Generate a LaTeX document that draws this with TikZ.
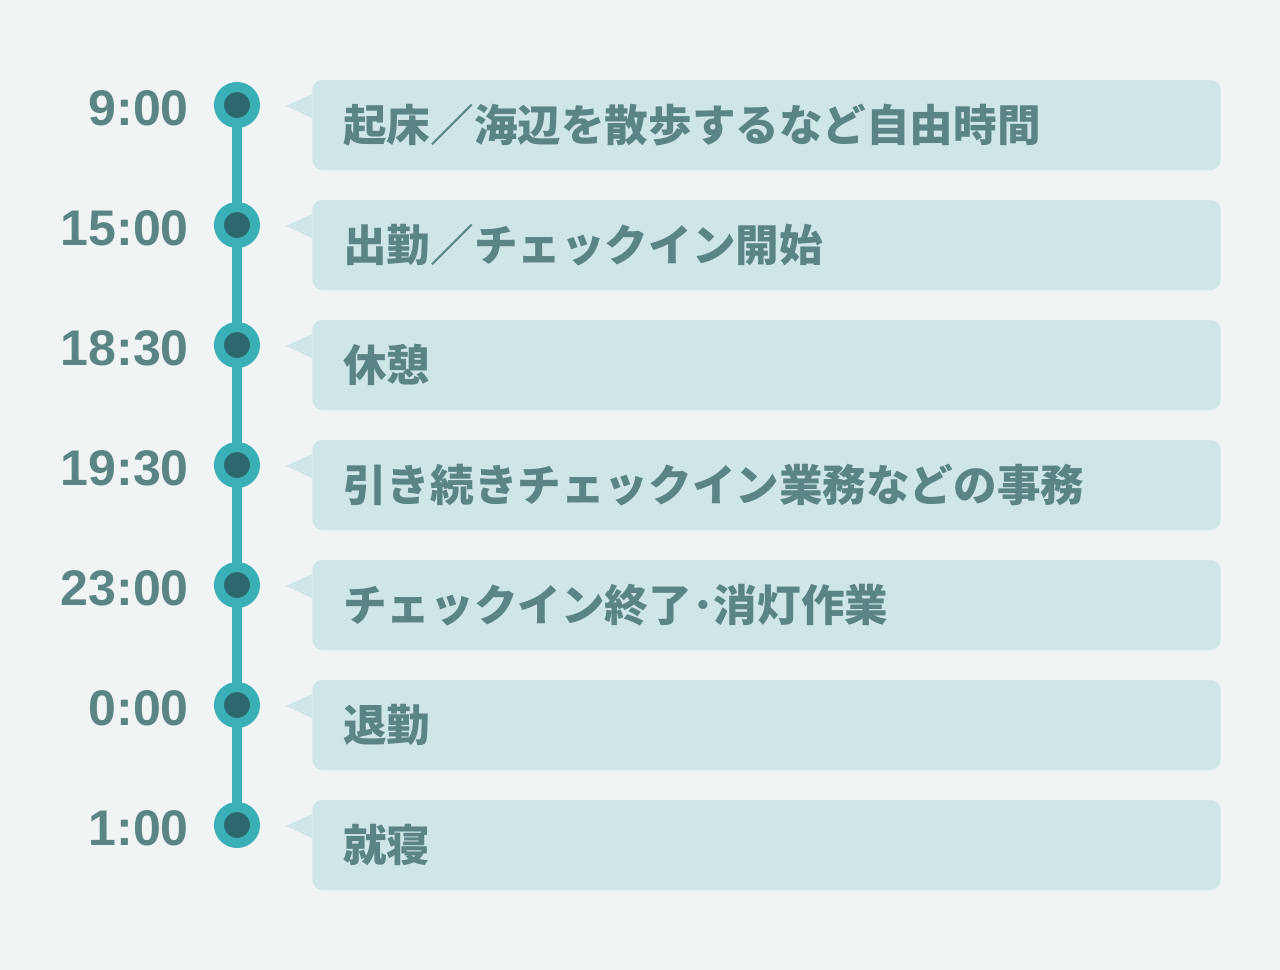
\documentclass[tikz,border=0pt]{standalone}
\usepackage{fontspec}
\setmainfont{Liberation Sans}
\newfontfamily\cjk{Noto Sans CJK JP}
\usepackage{xcolor}
\usepackage{tikz}
\usetikzlibrary{calc, backgrounds, positioning}

\definecolor{bgcol}{HTML}{F0F4F5}
\definecolor{tealline}{HTML}{3AB0B6}
\definecolor{tealdark}{HTML}{2D6870}
\definecolor{boxcol}{HTML}{CFE6E8}
\definecolor{labcol}{HTML}{5B8585}

\tikzset{
    timelabel/.style={anchor=east, inner sep=0pt, text=labcol,
        font=\fontsize{35.6}{36}\selectfont\bfseries},
    dot/.style={circle, minimum size=0.9cm, inner sep=0pt,
        fill=tealdark, draw=tealline, line width=0.25cm},
    eventbox/.style={rectangle, anchor=west, fill=boxcol, rounded corners=0.25cm,
        minimum width=22.7cm, minimum height=2.25cm, inner xsep=0.775cm,
        text width=21.15cm, align=left, text=labcol,
        font=\cjk\fontsize{31}{32}\selectfont\bfseries},
}

\begin{document}
\begin{tikzpicture}[x=0.025cm, y=-0.025cm]
    % Hintergrund
    \useasboundingbox (0,0) rectangle (1280,970);

    % Zeitpunkte und Ereignisse
    \foreach \i/\t/\e in {1/9:00/起床／海辺を散歩するなど自由時間,
                          2/15:00/出勤／チェックイン開始,
                          3/18:30/休憩,
                          4/19:30/引き続きチェックイン業務などの事務,
                          5/23:00/チェックイン終了･消灯作業,
                          6/0:00/退勤,
                          7/1:00/就寝} {
        \node[dot] (d\i) at (237,{105+120*(\i-1)}) {};
        \node[timelabel] (t\i) at (189,{108+120*(\i-1)}) {\t};
        \node[eventbox] (b\i) at (312,{125+120*(\i-1)}) {\e};
        \fill[boxcol] ($(b\i.west)+(0,-31)$) -- ($(b\i.west)+(-26,-19)$)
            -- ($(b\i.west)+(0,-7)$) -- cycle;
    }

    % Zeitachse
    \begin{scope}[on background layer]
        \fill[bgcol] (0,0) rectangle (1280,970);
        \draw[tealline, line width=0.25cm] (d1.center) -- (d7.center);
    \end{scope}
\end{tikzpicture}
\end{document}
